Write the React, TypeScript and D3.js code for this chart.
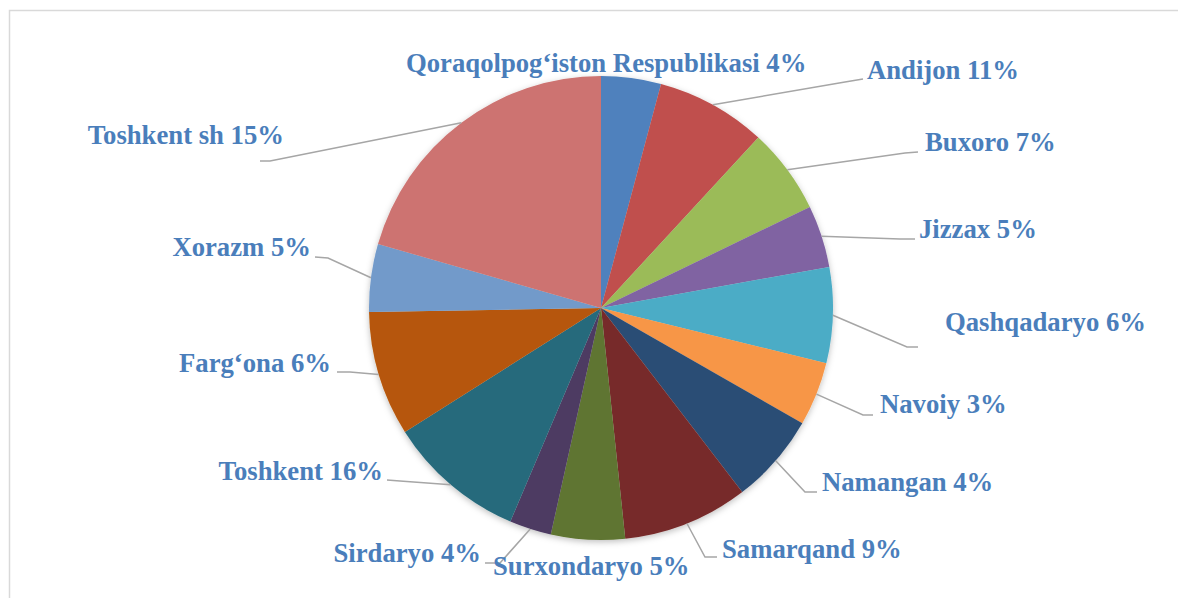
import React from "react";
import * as d3 from "d3";

// Regions in clockwise order starting at 12 o'clock
const regions = [
  "Qoraqolpog‘iston Respublikasi",
  "Andijon",
  "Buxoro",
  "Jizzax",
  "Qashqadaryo",
  "Navoiy",
  "Namangan",
  "Samarqand",
  "Surxondaryo",
  "Sirdaryo",
  "Toshkent",
  "Farg‘ona",
  "Xorazm",
  "Toshkent sh",
];

// Slice sizes as drawn (estimated share of the circle, in degrees)
const sliceShares = [15, 27.7, 21.5, 15.6, 24, 16, 22.7, 31.5, 18.5, 10.5, 34.7, 31.3, 17, 74];

// Percentages printed in the data labels
const labelPercents = [4, 11, 7, 5, 6, 3, 4, 9, 5, 4, 16, 6, 5, 15];

const colors = [
  "#4F81BD", "#C0504D", "#9BBB59", "#8064A2", "#4BACC6", "#F79646", "#2C4D75",
  "#772C2A", "#5F7530", "#4D3B62", "#276A7C", "#B65708", "#729ACA", "#CD7371",
];

// Label layout: text anchor point and leader line elbow/end (null = no leader)
const labelLayout: { x: number; y: number; anchor: string; elbow: number[] | null; end: number[] | null }[] = [
  { x: 406, y: 72, anchor: "start", elbow: null, end: null },
  { x: 867, y: 79, anchor: "start", elbow: [845, 82], end: [863, 79] },
  { x: 925, y: 151, anchor: "start", elbow: [905, 153], end: [918, 152] },
  { x: 919, y: 238, anchor: "start", elbow: [900, 239], end: [915, 239] },
  { x: 945, y: 331, anchor: "start", elbow: [907, 347], end: [918, 347] },
  { x: 880, y: 413, anchor: "start", elbow: [863, 415], end: [873, 415] },
  { x: 822, y: 491, anchor: "start", elbow: [805, 492], end: [817, 492] },
  { x: 722, y: 558, anchor: "start", elbow: [705, 557], end: [717, 557] },
  { x: 493, y: 575, anchor: "start", elbow: null, end: null },
  { x: 481, y: 562, anchor: "end", elbow: [500, 563], end: [485, 563] },
  { x: 383, y: 480, anchor: "end", elbow: [400, 481], end: [387, 480] },
  { x: 331, y: 372, anchor: "end", elbow: [350, 372], end: [337, 372] },
  { x: 311, y: 256, anchor: "end", elbow: [328, 258], end: [315, 257] },
  { x: 284, y: 144, anchor: "end", elbow: [270, 161], end: [260, 161] },
];

const cx = 601;
const cy = 308;
const radius = 232;

export default function App() {
  const pie = d3
    .pie<number>()
    .sort(null)
    .value((d) => d)
    .startAngle(0)
    .endAngle(2 * Math.PI);
  const arcs = pie(sliceShares);
  const arc = d3.arc<d3.PieArcDatum<number>>().innerRadius(0).outerRadius(radius);
  const edgeArc = d3.arc<d3.PieArcDatum<number>>().innerRadius(radius).outerRadius(radius);

  return (
    <svg
      width={1178}
      height={598}
      style={{ position: "absolute", left: 0, top: 0, background: "#fff" }}
    >
      <defs>
        <filter id="sh" x="-20%" y="-20%" width="140%" height="140%">
          <feDropShadow dx="0" dy="2" stdDeviation="3" floodColor="#000" floodOpacity="0.25" />
        </filter>
      </defs>
      <rect x={0} y={0} width={1178} height={598} fill="#fff" />
      <path d="M9.5,598 V10.5 H1178" fill="none" stroke="#d9d9d9" strokeWidth={1.5} />
      <g transform={`translate(${cx},${cy})`} filter="url(#sh)">
        {arcs.map((a, i) => (
          <path key={i} d={arc(a) || ""} fill={colors[i]} />
        ))}
      </g>
      <g fill="none" stroke="#a6a6a6" strokeWidth={1.5}>
        {arcs.map((a, i) => {
          const L = labelLayout[i];
          if (!L.elbow || !L.end) return null;
          const [sx, sy] = edgeArc.centroid(a);
          const pts: [number, number][] = [
            [cx + sx, cy + sy],
            [L.elbow[0], L.elbow[1]],
            [L.end[0], L.end[1]],
          ];
          return <path key={i} d={d3.line()(pts) || ""} />;
        })}
      </g>
      <g
        fontFamily="'Liberation Serif', 'Times New Roman', serif"
        fontWeight="bold"
        fontSize={26.7}
        fill="#4A7EBB"
      >
        {regions.map((r, i) => {
          const L = labelLayout[i];
          return (
            <text key={i} x={L.x} y={L.y} textAnchor={L.anchor}>
              {`${r} ${labelPercents[i]}%`}
            </text>
          );
        })}
      </g>
    </svg>
  );
}
